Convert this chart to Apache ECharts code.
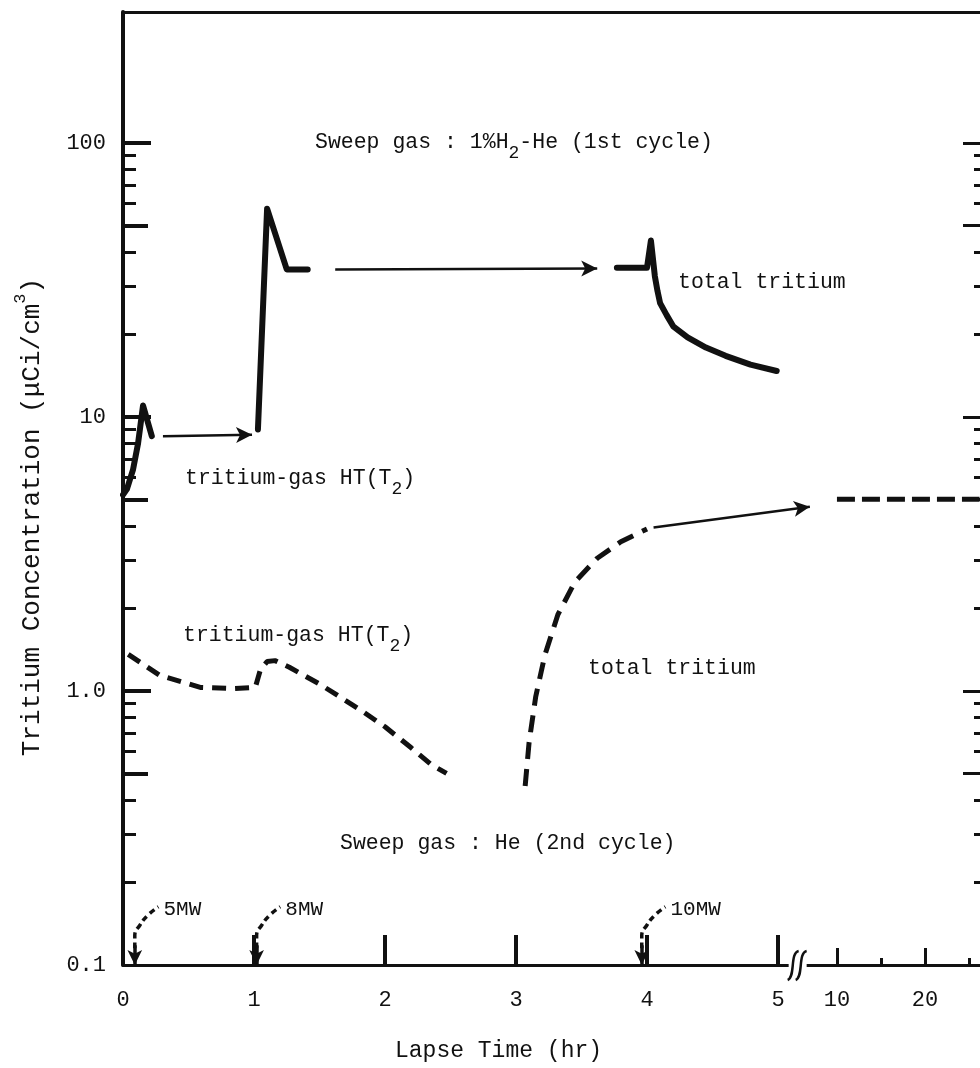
<!DOCTYPE html>
<html>
<head>
<meta charset="utf-8">
<script src="https://cdn.jsdelivr.net/npm/echarts@6/dist/echarts.min.js"></script>
<style>html,body{margin:0;background:#fff}#main{width:980px;height:1068px}</style>
</head>
<body>
<div id="main"></div>
<script>
var chart = echarts.init(document.getElementById('main'));
var FONT = '"Liberation Mono", "DejaVu Sans Mono", monospace';
var INK = '#111';

// values: time (hr) / concentration (uCi/cm3)
var cyc1StartTime = [0, 0.03, 0.076, 0.115, 0.153, 0.22];
var cyc1StartConc = [5.2, 5.45, 6.4, 8.0, 11, 8.5];
var cyc1PeakTime = [1.03, 1.10, 1.25, 1.41];
var cyc1PeakConc = [9.0, 57.5, 34.5, 34.5];
var cyc1EndTime = [3.77, 4.0, 4.03, 4.06, 4.08, 4.1, 4.15, 4.2, 4.31, 4.45, 4.6, 4.79, 4.99];
var cyc1EndConc = [35, 35, 44, 32.6, 28.8, 26, 23.5, 21.4, 19.5, 17.9, 16.7, 15.5, 14.7];

var cyc2GasTime = [0.04, 0.28, 0.59, 0.84, 1.01, 1.05, 1.1, 1.16, 1.27, 1.5, 1.8, 2.0, 2.2, 2.35, 2.47];
var cyc2GasConc = [1.36, 1.14, 1.03, 1.02, 1.03, 1.2, 1.28, 1.29, 1.22, 1.06, 0.86, 0.74, 0.62, 0.54, 0.5];
var cyc2TotalTime = [3.07, 3.1, 3.15, 3.22, 3.32, 3.45, 3.62, 3.8, 4.0];
var cyc2TotalConc = [0.45, 0.65, 0.95, 1.35, 1.9, 2.5, 3.05, 3.5, 3.9];
var cyc2LateTime = [10, 26.2];
var cyc2LateConc = [5, 5];

var arrowFromTime = [0.305, 1.62, 4.05];
var arrowFromConc = [8.5, 34.5, 3.95];
var arrowToTime = [0.985, 3.62, 7.7];
var arrowToConc = [8.6, 34.8, 4.7];

var powerLabels = ['5MW', '8MW', '10MW'];
var powerTime = [0.09, 1.02, 3.96];

var xTickHours = [0, 1, 2, 3, 4, 5];
var xLabelHours = [0, 1, 2, 3, 4, 5, 10, 20];
var xSmallTickHours = [10, 20];
var xMinorTickHours = [15, 25];
var yLabelValues = [0.1, 1, 10, 100];
var yMajorTicks = [1, 10, 100];
var yHalfTicks = [0.5, 5, 50];
var yMinorTicks = [0.2, 0.3, 0.4, 0.6, 0.7, 0.8, 0.9, 2, 3, 4, 6, 7, 8, 9, 20, 30, 40, 60, 70, 80, 90];

// broken time axis: linear 0-5 h, gap, then compressed 10 h onwards
function hourToAxis(h) {
  if (h <= 5) return h;
  if (h < 10) return 5 + (h - 5) * 0.09;
  return 5.45 + (h - 10) * 0.0672;
}
function axisToHour(v) {
  if (v <= 5) return v;
  if (v < 5.45) return 5 + (v - 5) / 0.09;
  return 10 + (v - 5.45) / 0.0672;
}
function pairs(ts, cs) {
  return ts.map(function (t, i) { return [hourToAxis(t), cs[i]]; });
}

var X_MAX = 857 / 131;
var Y_MIN = 0.1, Y_MAX = 300;

function xAx(pos, line, ticks, len, w) {
  return {
    type: 'value', min: 0, max: X_MAX, position: pos,
    axisLine: { show: line, onZero: false, lineStyle: { color: INK, width: 3 } },
    axisTick: { show: !!ticks, inside: true, length: len, customValues: ticks ? ticks.map(hourToAxis) : undefined, lineStyle: { color: INK, width: w } },
    axisLabel: { show: false }, splitLine: { show: false }
  };
}
function yAx(pos, line, ticks, len, w) {
  return {
    type: 'log', min: Y_MIN, max: Y_MAX, position: pos,
    axisLine: { show: line, onZero: false, lineStyle: { color: INK, width: 4 } },
    axisTick: { show: true, inside: true, length: len, customValues: ticks, lineStyle: { color: INK, width: w } },
    axisLabel: { show: false }, splitLine: { show: false }, minorTick: { show: false }
  };
}

var xMain = xAx('bottom', true, xTickHours, 30, 4);
xMain.axisLabel = {
  show: true, customValues: xLabelHours.map(hourToAxis), margin: 24,
  fontFamily: FONT, fontSize: 22, color: INK,
  formatter: function (v) { return String(Math.round(axisToHour(v))); }
};
var yMain = yAx('left', true, yMajorTicks, 28, 4);
yMain.axisLabel = {
  show: true, customValues: yLabelValues, margin: 17,
  fontFamily: FONT, fontSize: 22, color: INK,
  formatter: function (v) {
    if (Math.abs(v - 0.1) < 1e-6) return '0.1';
    if (Math.abs(v - 1) < 1e-6) return '1.0';
    return String(Math.round(v));
  }
};

function solid(d) {
  return { type: 'line', data: d, showSymbol: false, silent: true, z: 5,
    lineStyle: { color: INK, width: 6, cap: 'round', join: 'round' } };
}
function dashed(d, dash, w) {
  return { type: 'line', data: d, showSymbol: false, silent: true, z: 5,
    lineStyle: { color: INK, width: w, type: dash, cap: 'butt' } };
}

var series = [
  solid(pairs(cyc1StartTime, cyc1StartConc)),
  solid(pairs(cyc1PeakTime, cyc1PeakConc)),
  solid(pairs(cyc1EndTime, cyc1EndConc)),
  dashed(pairs(cyc2GasTime, cyc2GasConc), [14, 9], 5),
  dashed(pairs(cyc2TotalTime, cyc2TotalConc), [17, 10], 5),
  dashed(pairs(cyc2LateTime, cyc2LateConc), [18, 7], 5),
  {
    type: 'line', data: [], silent: true,
    markLine: {
      silent: true, animation: false, symbol: ['none', 'arrow'], symbolSize: [12, 16],
      label: { show: false },
      lineStyle: { color: INK, width: 2.5, type: 'solid' },
      emphasis: { disabled: true },
      data: arrowFromTime.map(function (t, i) {
        return [{ coord: [hourToAxis(t), arrowFromConc[i]] },
                { coord: [hourToAxis(arrowToTime[i]), arrowToConc[i]] }];
      })
    }
  }
];

// power step markers: dashed hook arrows pointing to the time axis
powerTime.forEach(function (t, i) {
  series.push({
    type: 'line', smooth: 0.5, showSymbol: false, silent: true,
    data: [[t, 0.115], [t, 0.128], [t + 0.04, 0.14], [t + 0.1, 0.152], [t + 0.18, 0.163]],
    lineStyle: { color: INK, width: 3.5, type: [6, 4] },
    markLine: {
      silent: true, animation: false, symbol: ['none', 'arrow'], symbolSize: [11, 15],
      label: { show: false }, lineStyle: { color: INK, width: 3.5, type: 'solid' },
      data: [[{ coord: [t, 0.118] }, { coord: [t, 0.1] }]]
    }
  });
  series.push({
    type: 'scatter', symbolSize: 1, silent: true,
    itemStyle: { opacity: 0 },
    data: [[t + 0.2, 0.16]],
    label: { show: true, position: 'right', distance: 2, formatter: powerLabels[i],
      fontFamily: FONT, fontSize: 21, color: INK, opacity: 1 }
  });
});

function txt(x, y, s, size) {
  return { type: 'text', x: x, y: y, silent: true, z: 10,
    style: { text: s, fontFamily: FONT, fontSize: size || 21.5, fill: INK,
      textAlign: 'left', textVerticalAlign: 'middle', lineHeight: 40,
      rich: { sub: { fontSize: 18, lineHeight: 16, verticalAlign: 'bottom', fontFamily: FONT, fill: INK },
              sup: { fontSize: 16, lineHeight: 14, verticalAlign: 'top', fontFamily: FONT, fill: INK } } } };
}

chart.setOption({
  animation: false,
  backgroundColor: '#fff',
  grid: { left: 123, right: 0, top: 12, bottom: 103 },
  xAxis: [
    xMain,
    xAx('bottom', false, xSmallTickHours, 17, 3),
    xAx('bottom', false, xMinorTickHours, 7, 3),
    xAx('top', true, null, 0, 3)
  ],
  yAxis: [
    yMain,
    yAx('left', false, yHalfTicks, 25, 4),
    yAx('left', false, yMinorTicks, 13, 3),
    yAx('right', false, yMajorTicks.concat(yHalfTicks), 17, 3),
    yAx('right', false, yMinorTicks, 6, 3)
  ],
  series: series,
  graphic: [
    txt(315, 142, 'Sweep gas : 1%H{sub|2}-He (1st cycle)'),
    txt(678, 282, 'total tritium'),
    txt(185, 478, 'tritium-gas HT(T{sub|2})'),
    txt(183, 635, 'tritium-gas HT(T{sub|2})'),
    txt(588, 668, 'total tritium'),
    txt(340, 843, 'Sweep gas : He (2nd cycle)'),
    txt(395, 1051, 'Lapse Time (hr)', 23),
    {
      type: 'text', x: 32, y: 517, rotation: Math.PI / 2, silent: true,
      style: { text: 'Tritium Concentration (\u03bcCi/cm{sup|3})', fontFamily: FONT, fontSize: 26, fill: INK,
        textAlign: 'center', textVerticalAlign: 'middle', lineHeight: 40,
        rich: { sup: { fontSize: 17, lineHeight: 16, verticalAlign: 'top', fontFamily: FONT, fill: INK } } }
    }
  ]
});

// axis break mark between 5 h and 10 h
var bx = chart.convertToPixel({ xAxisIndex: 0 }, 5.15);
var by = chart.convertToPixel({ yAxisIndex: 0 }, Y_MIN);
var brk = [{ type: 'rect', shape: { x: bx - 9, y: by - 6, width: 18, height: 12 }, style: { fill: '#fff' }, z: 20, silent: true }];
[0, 8].forEach(function (k) {
  brk.push({ type: 'bezierCurve', z: 21, silent: true,
    shape: { x1: bx - 10 + k, y1: by + 15, cpx1: bx - 2 + k, cpy1: by + 12, cpx2: bx - 8 + k, cpy2: by - 12, x2: bx + 1 + k, y2: by - 14 },
    style: { stroke: INK, lineWidth: 2.5, fill: null } });
});
var opt = chart.getOption();
chart.setOption({ graphic: opt.graphic[0].elements.concat(brk) });
</script>
</body>
</html>
